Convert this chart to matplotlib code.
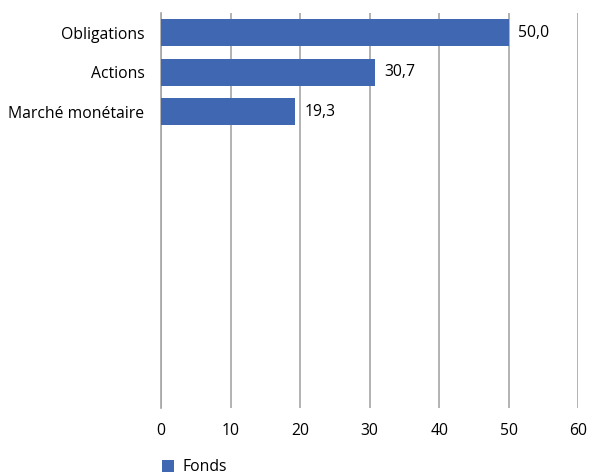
import matplotlib.pyplot as plt

# Données
categories = ["Obligations", "Actions", "Marché monétaire"]
valeurs = [50.0, 30.7, 19.3]
serie = "Fonds"
ticks_x = [0, 10, 20, 30, 40, 50, 60]
n_emplacements = 10  # l'axe garde de la place pour 10 catégories

plt.rcParams["font.family"] = ["Open Sans", "DejaVu Sans"]
taille = 11.3

fig = plt.figure(figsize=(5.9, 4.74), dpi=100)
ax = fig.add_axes([0.273, 0.139, 0.707, 0.834])

bleu = "#4068b2"
gris = "#a6a6a6"

pos = list(range(len(categories)))
barres = ax.barh(pos, valeurs, height=0.68, color=bleu, label=serie, zorder=3)

for b, v in zip(barres, valeurs):
    ax.text(b.get_width() + 1.4, b.get_y() + b.get_height() / 2,
            f"{v:.1f}".replace(".", ","), va="center", ha="left", fontsize=taille)

ax.set_ylim(n_emplacements - 0.5, -0.5)
ax.set_xlim(0, 60)
ax.set_yticks(pos)
ax.set_yticklabels(categories, fontsize=taille)
ax.set_xticks(ticks_x)
ax.set_xticklabels([str(t) for t in ticks_x], fontsize=taille)

ax.grid(axis="x", color=gris, linewidth=1.2, zorder=0)
for s in ["top", "right", "bottom"]:
    ax.spines[s].set_visible(False)
ax.spines["left"].set_color(gris)
ax.spines["left"].set_linewidth(1.2)
ax.tick_params(axis="y", length=0, pad=12)
ax.tick_params(axis="x", length=0, pad=11)

fig.legend(loc="lower left", bbox_to_anchor=(0.25, -0.032), frameon=False,
           fontsize=taille, handlelength=0.8, handleheight=0.8, handletextpad=0.5)

fig.savefig("out.png", dpi=100)
